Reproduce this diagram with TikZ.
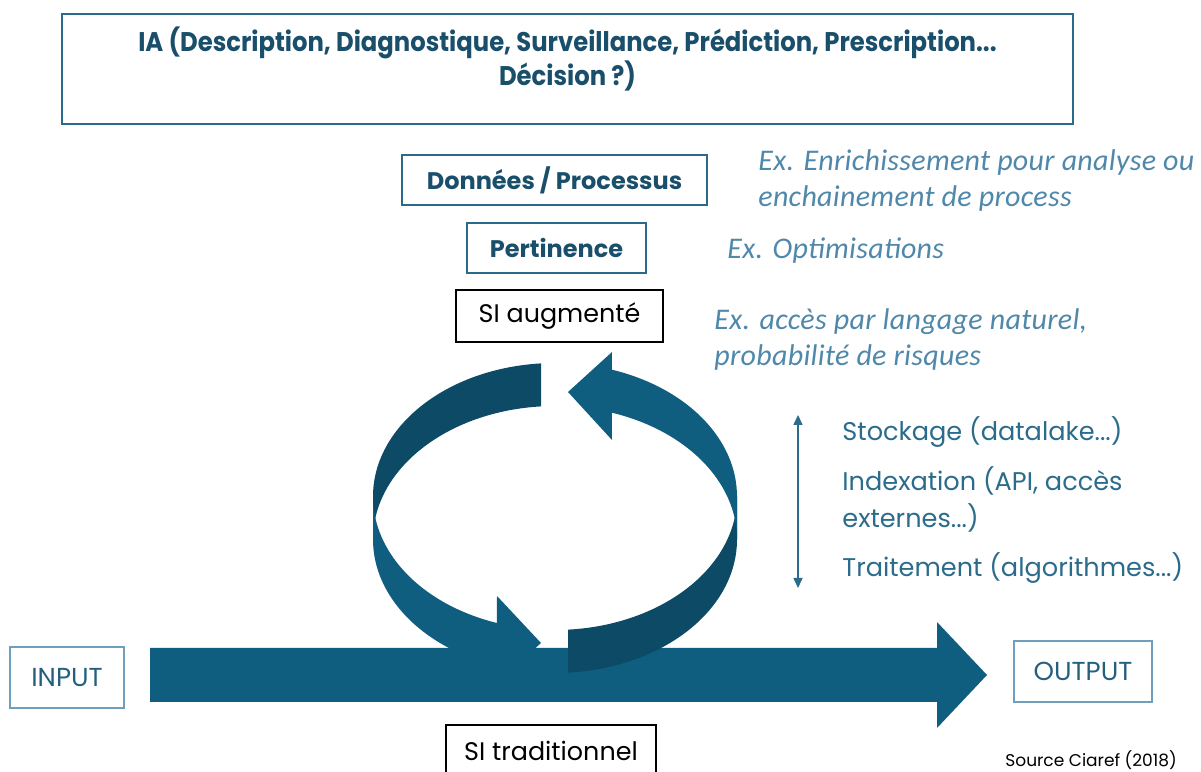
\documentclass[tikz,border=0pt]{standalone}
\usepackage{fontspec}
\setmainfont{Poppins}
\newfontfamily\narrowfont[FakeStretch=0.9]{Poppins}
\newfontfamily\exfont[LetterSpace=1.0]{Carlito}
\usetikzlibrary{arrows.meta}

\definecolor{flowblue}{HTML}{0F5E80}
\definecolor{ringdark}{HTML}{0C4A66}
\definecolor{frameblue}{HTML}{2B6A8A}
\definecolor{titleblue}{HTML}{1A4F6B}
\definecolor{ioframe}{HTML}{6F9FBC}
\definecolor{iotext}{HTML}{245F7E}
\definecolor{exblue}{HTML}{4F88AA}
\definecolor{listblue}{HTML}{2B6C8C}

\begin{document}
\begin{tikzpicture}[
    x=0.5pt, y=0.5pt,
    box/.style={rectangle, line width=1pt, inner sep=0pt, align=center},
    titlebox/.style={box, draw=frameblue, text=titleblue, minimum width=505.5pt,
      minimum height=55pt, text depth=13pt,
      font=\narrowfont\bfseries\fontsize{13.5}{17}\selectfont},
    topicbox/.style={box, draw=frameblue, text=titleblue, minimum height=25pt,
      font=\bfseries\fontsize{12}{14}\selectfont},
    sibox/.style={box, draw=black, minimum height=26pt,
      font=\fontsize{12.7}{15}\selectfont},
    iobox/.style={box, draw=ioframe, text=iotext, minimum height=30.5pt,
      font=\fontsize{13}{15}\selectfont},
    exnote/.style={anchor=west, inner sep=0pt, align=left, text=exblue,
      font=\exfont\itshape\fontsize{15}{18}\selectfont},
    layer/.style={anchor=west, inner sep=0pt, align=left, text=listblue,
      font=\fontsize{12.8}{18.5}\selectfont},
    ring/.style={x radius=182, y radius=133.5},
    tie/.style={{Triangle[length=5pt, width=4.5pt]}-{Triangle[length=5pt, width=4.5pt]},
      draw=listblue, line width=0.8pt},
  ]
  \useasboundingbox (0,0) rectangle (1201,772);

  \node[titlebox] (ia) at (567.5,703)
    {IA (Description, Diagnostique, Surveillance, Prédiction, Prescription...\\Décision ?)};

  \node[topicbox, minimum width=152.5pt] (donnees)    at (554.5,592) {Données / Processus};
  \node[topicbox, minimum width=89.5pt]  (pertinence) at (556.5,524) {Pertinence};
  \node[sibox, minimum width=103.5pt]    (siaugmente) at (559.5,456) {SI augmenté};

  \node[exnote] (exdonnees)    at (758,591) {Ex. Enrichissement pour analyse ou\\enchainement de process};
  \node[exnote] (expertinence) at (727,521) {Ex. Optimisations};
  \node[exnote] (exsi)         at (714,432) {Ex. accès par langage naturel,\\probabilité de risques};

  % storage / indexing / processing
  \coordinate (tietop) at (798,357);
  \coordinate (tiebot) at (798,184);
  \draw[tie] (tietop) -- (tiebot);
  \node[layer] (stockage)   at (842,340)   {Stockage (datalake...)};
  \node[layer] (indexation) at (842,272.5) {Indexation (API, accès\\externes...)};
  \node[layer] (traitement) at (842,204)   {Traitement (algorithmes...)};

  % main flow
  \node[iobox, minimum width=57pt] (input)  at (67,94.5)    {INPUT};
  \node[iobox, minimum width=69pt] (output) at (1083,100.5) {OUTPUT};
  \fill[flowblue] (150,124) -- (937,124) -- (937,150) -- (987,97)
    -- (937,44) -- (937,70) -- (150,70) -- cycle;
  \node[sibox, minimum width=105pt] (sitraditionnel) at (551,21) {SI traditionnel};

  % loop: upper and lower rims of the band
  \coordinate (ring)    at (555,275.5);
  \coordinate (ringlow) at (555,232.5);

  % left arrow, running down to the flow
  \fill[ringdark] ([shift={(94.4:182 and 133.5)}]ring) arc[ring, start angle=94.4, end angle=180]
    -- ([shift={(180:182 and 133.5)}]ringlow) arc[ring, start angle=180, end angle=94.4] -- cycle;
  \fill[flowblue] ([shift={(180:182 and 133.5)}]ring) arc[ring, start angle=180, end angle=251.4]
    -- (497,176) -- (541,129) -- (497,89)
    -- ([shift={(251.4:182 and 133.5)}]ringlow) arc[ring, start angle=251.4, end angle=180] -- cycle;

  % right arrow, running up to the augmented layer
  \fill[ringdark] ([shift={(274.1:182 and 133.5)}]ring) arc[ring, start angle=274.1, end angle=360]
    -- ([shift={(0:182 and 133.5)}]ringlow) arc[ring, start angle=360, end angle=274.1] -- cycle;
  \fill[flowblue] ([shift={(0:182 and 133.5)}]ring) arc[ring, start angle=0, end angle=71.8]
    -- (612,420) -- (568,380) -- (612,332)
    -- ([shift={(71.8:182 and 133.5)}]ringlow) arc[ring, start angle=71.8, end angle=0] -- cycle;

  \node[anchor=base west, inner sep=0pt, font=\fontsize{8.5}{10}\selectfont] (source)
    at (1005,5) {Source Ciaref (2018)};
\end{tikzpicture}
\end{document}
